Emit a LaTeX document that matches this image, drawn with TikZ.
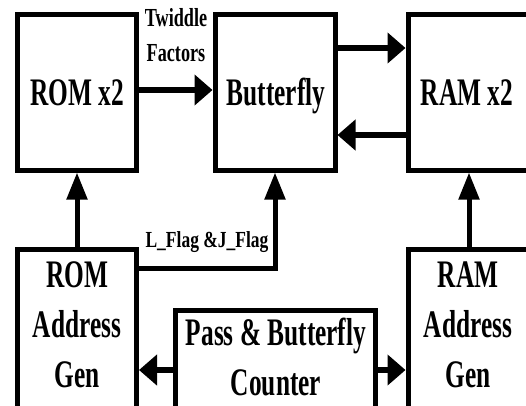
\documentclass[tikz,border=0pt]{standalone}
\usepackage{fontspec}
\setmainfont{Liberation Serif}
\newfontfamily\cfb{Liberation Serif Bold}[FakeStretch=0.65]
\newfontfamily\cfs{Liberation Serif Bold}[FakeStretch=0.70]
\newfontfamily\cfl{Liberation Serif Bold}[FakeStretch=0.76]
\usetikzlibrary{arrows.meta}
\tikzset{
  box/.style={draw, line width=5pt, inner sep=0pt, fill=white},
  big/.style={inner sep=0pt, align=center, font=\cfb\fontsize{39}{50}\selectfont},
  small/.style={inner sep=0pt, align=center, font=\cfs\fontsize{26}{35}\selectfont},
  harrow/.style={line width=6pt, line join=miter, -{Triangle[length=18pt,width=30pt]}},
  varrow/.style={line width=5pt, line join=miter, -{Triangle[length=27pt,width=20pt]}}
}
\begin{document}
\begin{tikzpicture}[x=1pt,y=-1pt]
\useasboundingbox (0,0) rectangle (526,405);
\clip (0,0) rectangle (526,405);
\fill[white] (0,0) rectangle (526,405);
% boxes
\node[box, minimum width=119pt, minimum height=156pt] (rom) at (77,92) {};
\node[box, minimum width=120pt, minimum height=156pt] (bf) at (275,92) {};
\node[box, minimum width=122pt, minimum height=156pt] (ram) at (469,92) {};
\node[box, minimum width=119pt, minimum height=161pt] (romag) at (77,329.5) {};
\node[box, minimum width=122pt, minimum height=161pt] (ramag) at (469,329.5) {};
\node[box, minimum width=200pt, minimum height=100pt] (cnt) at (275,360) {};
% texts
\node[big, anchor=base] (romt) at (77,105) {ROM x2};
\node[big, anchor=base] (bft) at (276,105) {Butterfly};
\node[big, anchor=base] (ramt) at (467,105) {RAM x2};
\node[big] (romagt) at (77,325) {ROM\\Address\\Gen};
\node[big] (ramagt) at (468,325) {RAM\\Address\\Gen};
\node[big] (cntt) at (276,357) {Pass \& Butterfly\\Counter};
\node[small] (tw) at (176,35) {Twiddle\\Factors};
\node[inner sep=0pt, anchor=base, font=\cfl\fontsize{23}{28}\selectfont] (lf) at (207,247) {L\_Flag \&J\_Flag};
% helper coordinates
\coordinate (yA) at (0,48);
\coordinate (yB) at (0,135);
\coordinate (yC) at (0,268);
\coordinate (yD) at (0,370);
\coordinate (yE) at (0,90);
% connectors
\draw[harrow] (rom.east |- yE) -- (bf.west |- yE);
\draw[harrow] (bf.east |- yA) -- (ram.west |- yA);
\draw[harrow] (ram.west |- yB) -- (bf.east |- yB);
\draw[varrow] (romag.north) -- (rom.south);
\draw[varrow] (ramag.north) -- (ram.south);
\draw[varrow] (romag.east |- yC) -| (bf.south);
\draw[harrow] (cnt.west |- yD) -- (romag.east |- yD);
\draw[harrow] (cnt.east |- yD) -- (ramag.west |- yD);
\end{tikzpicture}
\end{document}
